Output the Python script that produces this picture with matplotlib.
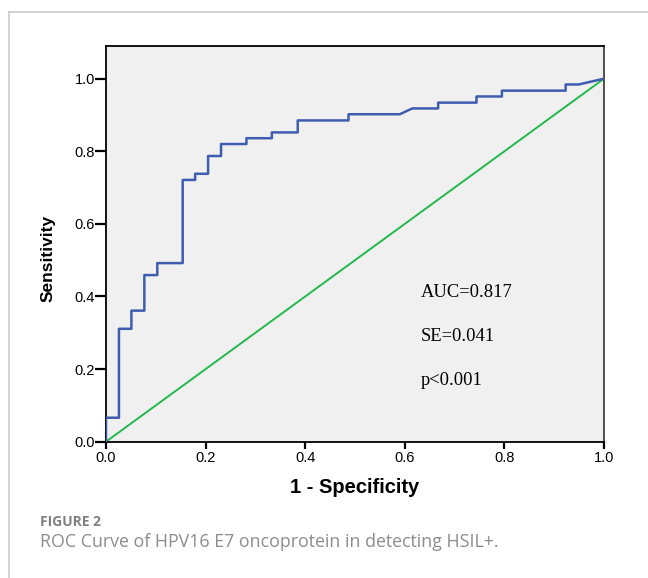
import matplotlib
matplotlib.use('Agg')
import matplotlib.pyplot as plt
from matplotlib.lines import Line2D

# ROC curve vertices (1 - specificity, sensitivity)
fpr = [0.0, 0.0, 0.026, 0.026, 0.051, 0.051, 0.077, 0.077, 0.103, 0.103,
       0.154, 0.154, 0.179, 0.179, 0.205, 0.205, 0.231, 0.231, 0.282, 0.282,
       0.333, 0.333, 0.385, 0.385, 0.487, 0.487, 0.590, 0.615, 0.667, 0.667,
       0.744, 0.744, 0.795, 0.795, 0.923, 0.923, 0.949, 1.0]
tpr = [0.0, 0.066, 0.066, 0.311, 0.311, 0.361, 0.361, 0.459, 0.459, 0.492,
       0.492, 0.721, 0.721, 0.738, 0.738, 0.787, 0.787, 0.820, 0.820, 0.836,
       0.836, 0.852, 0.852, 0.885, 0.885, 0.902, 0.902, 0.918, 0.918, 0.934,
       0.934, 0.951, 0.951, 0.967, 0.967, 0.984, 0.984, 1.0]
ref_line = [0.0, 1.0]
ticks = [0.0, 0.2, 0.4, 0.6, 0.8, 1.0]
stats = ['AUC=0.817', 'SE=0.041', 'p<0.001']
stat_y = [0.410, 0.289, 0.168]

fig = plt.figure(figsize=(6.48, 5.78), dpi=100, facecolor='white')

# card border (left and top only, as in the page crop)
fig.add_artist(Line2D([9/648, 9/648], [0, 1 - 11.5/578], color='#cccccc', lw=1.2))
fig.add_artist(Line2D([9/648, 1], [1 - 11.5/578, 1 - 11.5/578], color='#cccccc', lw=1.2))

ax = fig.add_axes([106/648, 1 - 441.7/578, 498/648, 395.7/578])
ax.set_facecolor('#f0f0f0')

ax.plot(ref_line, ref_line, color='#22b84a', lw=1.4, zorder=2)
ax.plot(fpr, tpr, color='#3f5db0', lw=1.8, zorder=3)

ax.set_xlim(0, 1)
ax.set_ylim(0, 1.09)
ax.set_xticks(ticks)
ax.set_yticks(ticks)
ax.set_xticklabels(['%.1f' % t for t in ticks], family='Liberation Sans', fontsize=10.5)
ax.set_yticklabels(['%.1f' % t for t in ticks], family='Liberation Sans', fontsize=10.5)
ax.tick_params(axis='x', length=5, width=1.6, pad=2, color='black')
ax.tick_params(axis='y', length=8, width=1.6, pad=0, color='black')
for s in ax.spines.values():
    s.set_linewidth(1.3)
ax.spines['right'].set_color('#444444')

ax.set_xlabel('1 - Specificity', family='Liberation Sans', fontweight='bold', fontsize=14.5)
ax.xaxis.set_label_coords(0.5, -0.092)
ax.set_ylabel('Sensitivity', family='Liberation Sans', fontweight='bold', fontsize=12.5)
ax.yaxis.set_label_coords(-0.102, 0.462)

for txt, yy in zip(stats, stat_y):
    ax.text(0.632, yy, txt, family='Liberation Serif', fontsize=13.3,
            va='center', ha='left', color='black')

fig.text(40/648, 1 - 521.7/578, 'FIGURE 2', family='Open Sans', fontsize=10,
         fontweight='bold', color='#808080', va='center', ha='left')
fig.text(40/648, 1 - 542/578, 'ROC Curve of HPV16 E7 oncoprotein in detecting HSIL+.',
         family='Open Sans', fontsize=12.8, color='#8c8c8c', va='center', ha='left')

fig.savefig('out.png', dpi=100, facecolor='white')
